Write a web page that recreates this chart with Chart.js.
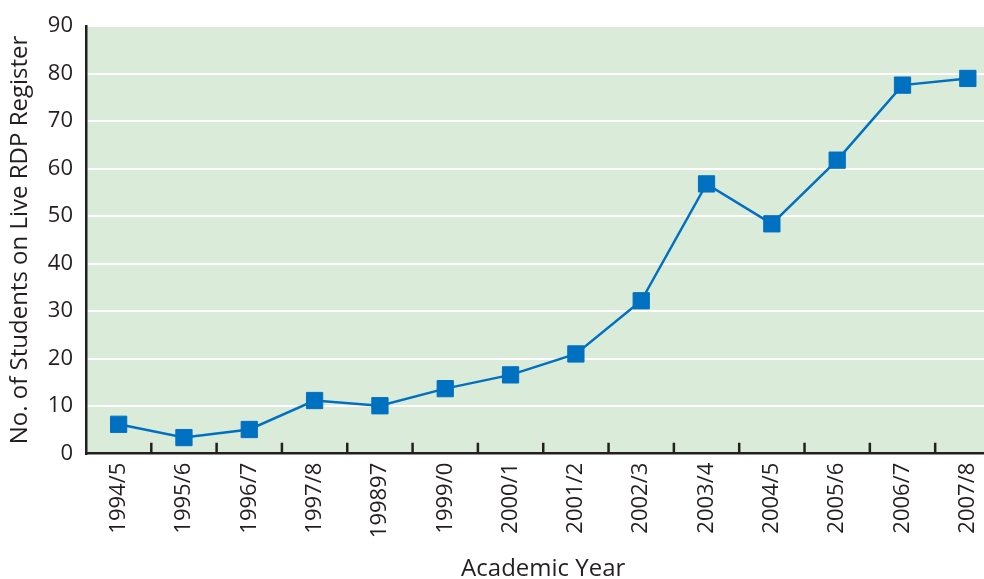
<!DOCTYPE html>
<html>
<head>
<meta charset="utf-8">
<script src="https://cdn.jsdelivr.net/npm/chart.js@4.4.0/dist/chart.umd.min.js"></script>
<style>
  html, body { margin: 0; padding: 0; background: #fff; overflow: hidden; }
  .wrap { width: 984px; height: 579px; overflow: hidden; position: relative; }
  .inner { width: 1013px; height: 579px; }
</style>
</head>
<body>
<div class="wrap">
  <div class="inner"><canvas id="rdpChart"></canvas></div>
</div>
<script>
const years = ['1994/5', '1995/6', '1996/7', '1997/8', '199897', '1999/0', '2000/1',
  '2001/2', '2002/3', '2003/4', '2004/5', '2005/6', '2006/7', '2007/8'];
const students = [6.2, 3.4, 5.1, 11.2, 10.1, 13.7, 16.6, 21.0, 32.2, 56.8, 48.4, 61.8, 77.6, 79.0];
const yTicks = [0, 10, 20, 30, 40, 50, 60, 70, 80, 90];

const ink = '#231f20';
const fontFam = '"Open Sans", "Noto Sans", sans-serif';

// green panel behind the plot, ticks pointing up from the x axis
const panel = {
  id: 'panel',
  beforeDraw(chart) {
    const a = chart.chartArea, c = chart.ctx;
    c.save();
    c.fillStyle = '#dbebda';
    c.fillRect(a.left, a.top, a.right - a.left, a.bottom - a.top);
    c.restore();
  },
  afterDraw(chart) {
    const x = chart.scales.x, c = chart.ctx;
    const half = (x.getPixelForValue(1) - x.getPixelForValue(0)) / 2;
    c.save();
    c.strokeStyle = ink;
    c.lineWidth = 2.5;
    for (let i = 1; i <= years.length; i++) {
      const px = x.getPixelForValue(i) - half;
      c.beginPath();
      c.moveTo(px, chart.chartArea.bottom);
      c.lineTo(px, chart.chartArea.bottom - 11);
      c.stroke();
    }
    c.restore();
  }
};

new Chart(document.getElementById('rdpChart'), {
  type: 'line',
  data: {
    labels: years,
    datasets: [{
      data: students,
      borderColor: '#0070c0',
      backgroundColor: '#0070c0',
      borderWidth: 2.5,
      pointStyle: 'rect',
      pointRadius: 11.5,
      pointBorderWidth: 1,
      pointHoverRadius: 11.5,
      tension: 0
    }]
  },
  options: {
    responsive: true,
    maintainAspectRatio: false,
    animation: false,
    layout: { padding: { top: 13, left: 3, right: 0, bottom: -5 } },
    plugins: { legend: { display: false }, tooltip: { enabled: false } },
    scales: {
      x: {
        offset: true,
        grid: { display: false, drawTicks: false },
        border: { color: ink, width: 2.5 },
        ticks: {
          color: ink,
          font: { family: fontFam, size: 22 },
          minRotation: 90,
          maxRotation: 90,
          padding: 9,
          autoSkip: false
        },
        title: {
          display: true,
          text: 'Academic Year',
          color: ink,
          font: { family: fontFam, size: 24 },
          padding: { top: 8, bottom: 0 }
        }
      },
      y: {
        min: 0,
        max: 90,
        afterBuildTicks(scale) { scale.ticks = yTicks.map(v => ({ value: v })); },
        grid: { color: '#ffffff', lineWidth: 2, drawTicks: false },
        border: { color: ink, width: 2.5 },
        ticks: {
          color: ink,
          font: { family: fontFam, size: 22 },
          padding: 13
        },
        title: {
          display: true,
          text: 'No. of Students on Live RDP Register',
          color: ink,
          font: { family: fontFam, size: 24 },
          padding: { top: 3, bottom: 0 }
        }
      }
    }
  },
  plugins: [panel]
});
</script>
</body>
</html>
